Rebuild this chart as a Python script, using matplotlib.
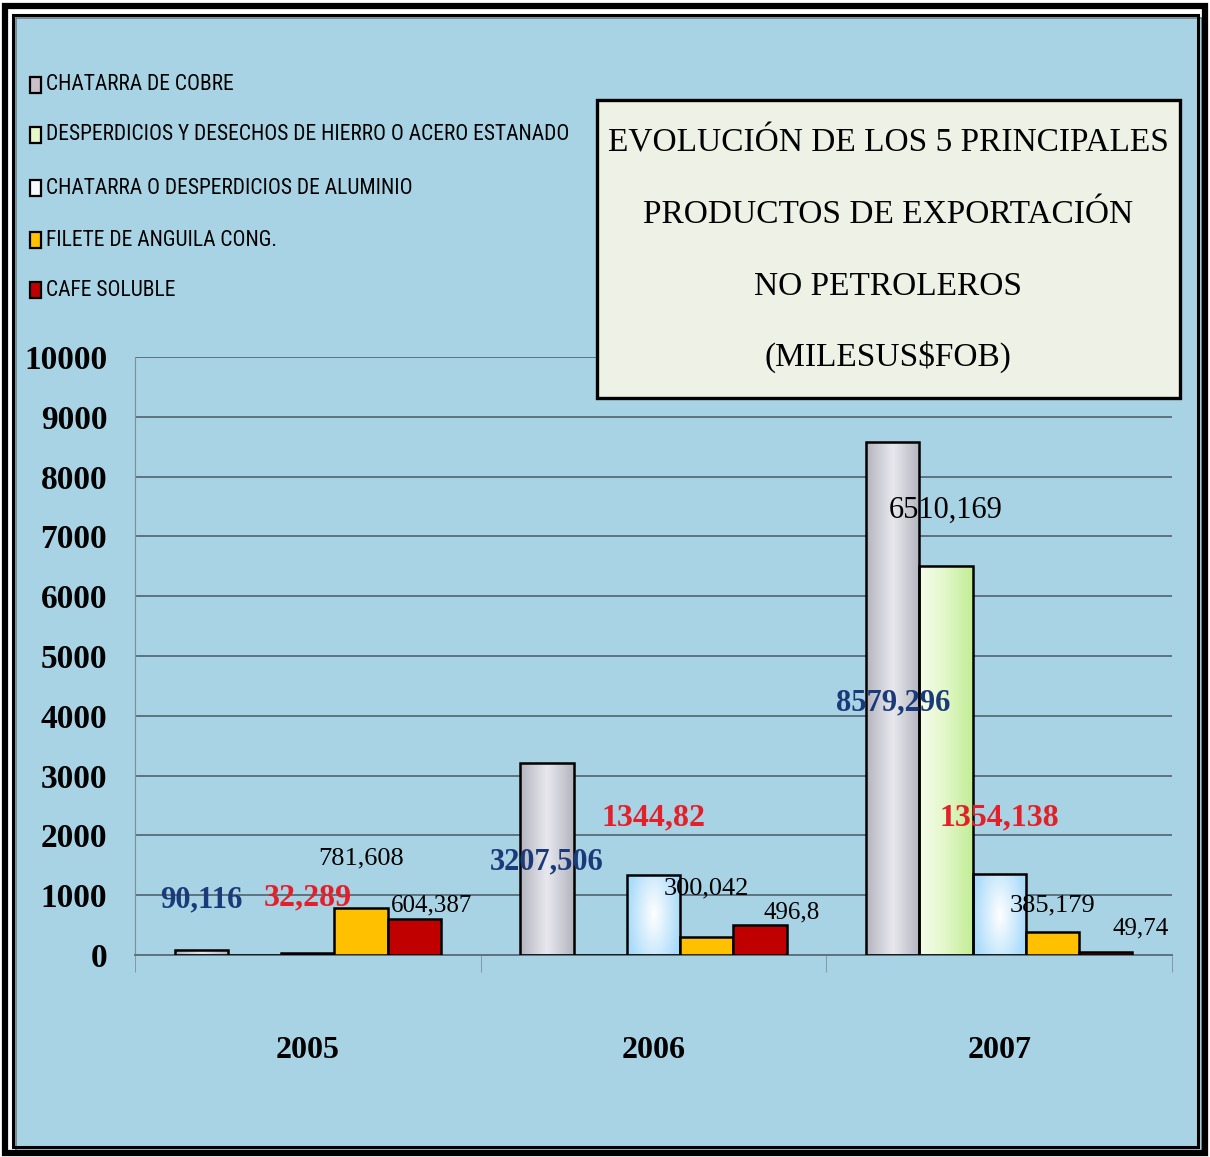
import numpy as np
import matplotlib
matplotlib.use("Agg")
import matplotlib.pyplot as plt
from matplotlib.patches import Rectangle
from matplotlib.colors import LinearSegmentedColormap
from matplotlib import font_manager

# data (miles US$ FOB)
years = ["2005", "2006", "2007"]
productos = ["CHATARRA DE COBRE",
             "DESPERDICIOS Y DESECHOS DE HIERRO O ACERO ESTANADO",
             "CHATARRA O DESPERDICIOS DE ALUMINIO",
             "FILETE DE ANGUILA CONG.",
             "CAFE SOLUBLE"]
cobre = [90.116, 3207.506, 8579.296]
desperdicios = [0, 0, 6510.169]
aluminio = [32.289, 1344.82, 1354.138]
filete = [781.608, 300.042, 385.179]
cafe = [604.387, 496.8, 49.74]
series = [cobre, desperdicios, aluminio, filete, cafe]

W, H = 1210, 1157
BG = "#a8d3e4"
SERIF = ["Liberation Serif", "DejaVu Serif"]

# pick the narrowest sans that is installed for the legend
installed = {f.name for f in font_manager.fontManager.ttflist}
NARROW = "DejaVu Sans"
for cand in ["Liberation Sans Narrow", "Roboto Condensed", "Open Sans Condensed", "Roboto", "Lato"]:
    if cand in installed:
        NARROW = cand
        break

# label placement (offset from bar top, in data units; horizontal shift in bar widths)
lab_dy = [[830, -1653, -4365], [0, 0, 931], [921, 946, 937], [840, 820, 451], [232, 222, 402]]
lab_dx = [[0, 0, 0], [0, 0, 0], [0, 0, 0], [0, 0, 0], [0.32, 0.6, 0.66]]
lab_color = ["#1b3a7a", "black", "#e3202a", "black", "black"]
lab_size = [22, 22, 23, 19, 18]
lab_weight = ["bold", "normal", "bold", "normal", "normal"]

legend_colors = ["#c9c0c9", "#e6f7c8", "#f4f9fc", "#ffc000", "#c00000"]


def fx(px):
    return px / W


def fy(py):
    return 1 - py / H


fig = plt.figure(figsize=(12.1, 11.57), dpi=100)
fig.patch.set_facecolor("white")

# blue panel and double frame
fig.add_artist(Rectangle((fx(16), fy(1151)), fx(1202 - 16), (1151 - 18) / H,
                         transform=fig.transFigure, fc=BG, ec="#6b7f88", lw=1.2, zorder=0))
fig.add_artist(Rectangle((fx(5), fy(1153)), fx(1205 - 5), (1153 - 6) / H,
                         transform=fig.transFigure, fc="none", ec="black", lw=4.5, zorder=1))
fig.add_artist(Rectangle((fx(13), fy(1147)), fx(1198 - 13), (1147 - 15) / H,
                         transform=fig.transFigure, fc="none", ec="black", lw=2.2, zorder=1))

ax = fig.add_axes([fx(135), fy(955), (1172 - 135) / W, (955 - 357) / H])
ax.set_facecolor("none")

x = np.arange(len(years))
bw = 0.154
grads = [
    ["#b5b5c0", "#e8e8ee", "#b5b5c0"],
    ["#f6fcec", "#e2f7c8", "#c2ed96"],
    ["#ffffff", "#a9dbfa", "#ffffff"],
    None,
    None,
]
solid = [None, None, None, "#ffc000", "#c00000"]

for i, vals in enumerate(series):
    pos = x + (i - 2) * bw
    if solid[i]:
        bars = ax.bar(pos, vals, bw, color=solid[i], edgecolor="black", linewidth=1.8, zorder=3)
    else:
        bars = ax.bar(pos, vals, bw, color="none", edgecolor="black", linewidth=1.8, zorder=3)
        cmap = LinearSegmentedColormap.from_list("g%d" % i, grads[i])
        for b in bars:
            if b.get_height() <= 0:
                continue
            x0, y0 = b.get_xy()
            if i == 2:
                gx, gy = np.meshgrid(np.linspace(-1, 1, 60), np.linspace(-1, 1, 60))
                img = np.clip(np.sqrt(gx ** 2 + 0.35 * gy ** 2), 0, 1) * 0.5
            else:
                img = np.linspace(0, 1, 64).reshape(1, -1)
            im = ax.imshow(img, extent=[x0, x0 + b.get_width(), y0, y0 + b.get_height()],
                           cmap=cmap, vmin=0, vmax=1, aspect="auto", zorder=2.5,
                           interpolation="bilinear")
            im.set_clip_path(b)
    for j, b in enumerate(bars):
        v = vals[j]
        if v <= 0:
            continue
        ax.text(b.get_x() + b.get_width() / 2 + lab_dx[i][j] * bw, v + lab_dy[i][j],
                str(v).replace(".", ","), ha="center", va="center",
                color=lab_color[i], fontsize=lab_size[i], fontweight=lab_weight[i],
                family=SERIF, zorder=5)

ax.set_xlim(-0.5, 2.5)
ax.set_ylim(0, 10000)
ax.set_yticks(np.arange(0, 10001, 1000))
ax.yaxis.grid(True, color="#5e7380", linewidth=1.4)
ax.set_axisbelow(True)
for s in ["top", "right"]:
    ax.spines[s].set_visible(False)
ax.spines["left"].set_color("#7d8f98")
ax.spines["bottom"].set_color("#5e7380")
ax.spines["bottom"].set_linewidth(1.4)

ax.set_xticks(x)
ax.set_xticklabels(years)
ax.set_xticks([-0.5, 0.5, 1.5, 2.5], minor=True)
ax.tick_params(axis="x", which="major", length=0, pad=58)
ax.tick_params(axis="x", which="minor", length=12, color="#7d8f98", direction="out")
ax.tick_params(axis="y", length=0, pad=20)
for t in ax.get_xticklabels():
    t.set_fontfamily(SERIF)
    t.set_fontweight("bold")
    t.set_fontsize(23)
for t in ax.get_yticklabels():
    t.set_fontfamily(SERIF)
    t.set_fontweight("bold")
    t.set_fontsize(24)

# legend: the longest entry must end before the title box (x ~ 572 px)
leg_y = [85, 135, 188, 240, 290]
renderer = fig.canvas.get_renderer()
probe = fig.text(0, 0, productos[1], fontsize=20, family=NARROW)
leg_size = 20 * (572 - 47) / probe.get_window_extent(renderer).width
probe.remove()
for name, col, py in zip(productos, legend_colors, leg_y):
    fig.add_artist(Rectangle((fx(30), fy(py + 8)), 11 / W, 16 / H, transform=fig.transFigure,
                             fc=col, ec="black", lw=1.6, zorder=4))
    fig.text(fx(46), fy(py), name, ha="left", va="center", fontsize=leg_size,
             family=NARROW, color="black")

# title box
fig.add_artist(Rectangle((fx(597), fy(398)), (1180 - 597) / W, (398 - 100) / H,
                         transform=fig.transFigure, fc="#eef1e5", ec="black", lw=2.4, zorder=4))
title_lines = ["EVOLUCIÓN DE LOS 5 PRINCIPALES", "PRODUCTOS DE EXPORTACIÓN",
               "NO PETROLEROS", "(MILESUS$FOB)"]
for line, py in zip(title_lines, [143, 215, 287, 357]):
    fig.text(fx(888), fy(py), line, ha="center", va="center", fontsize=24,
             family=SERIF, color="black", zorder=5)

fig.savefig("out.png", dpi=100, facecolor=fig.get_facecolor())
